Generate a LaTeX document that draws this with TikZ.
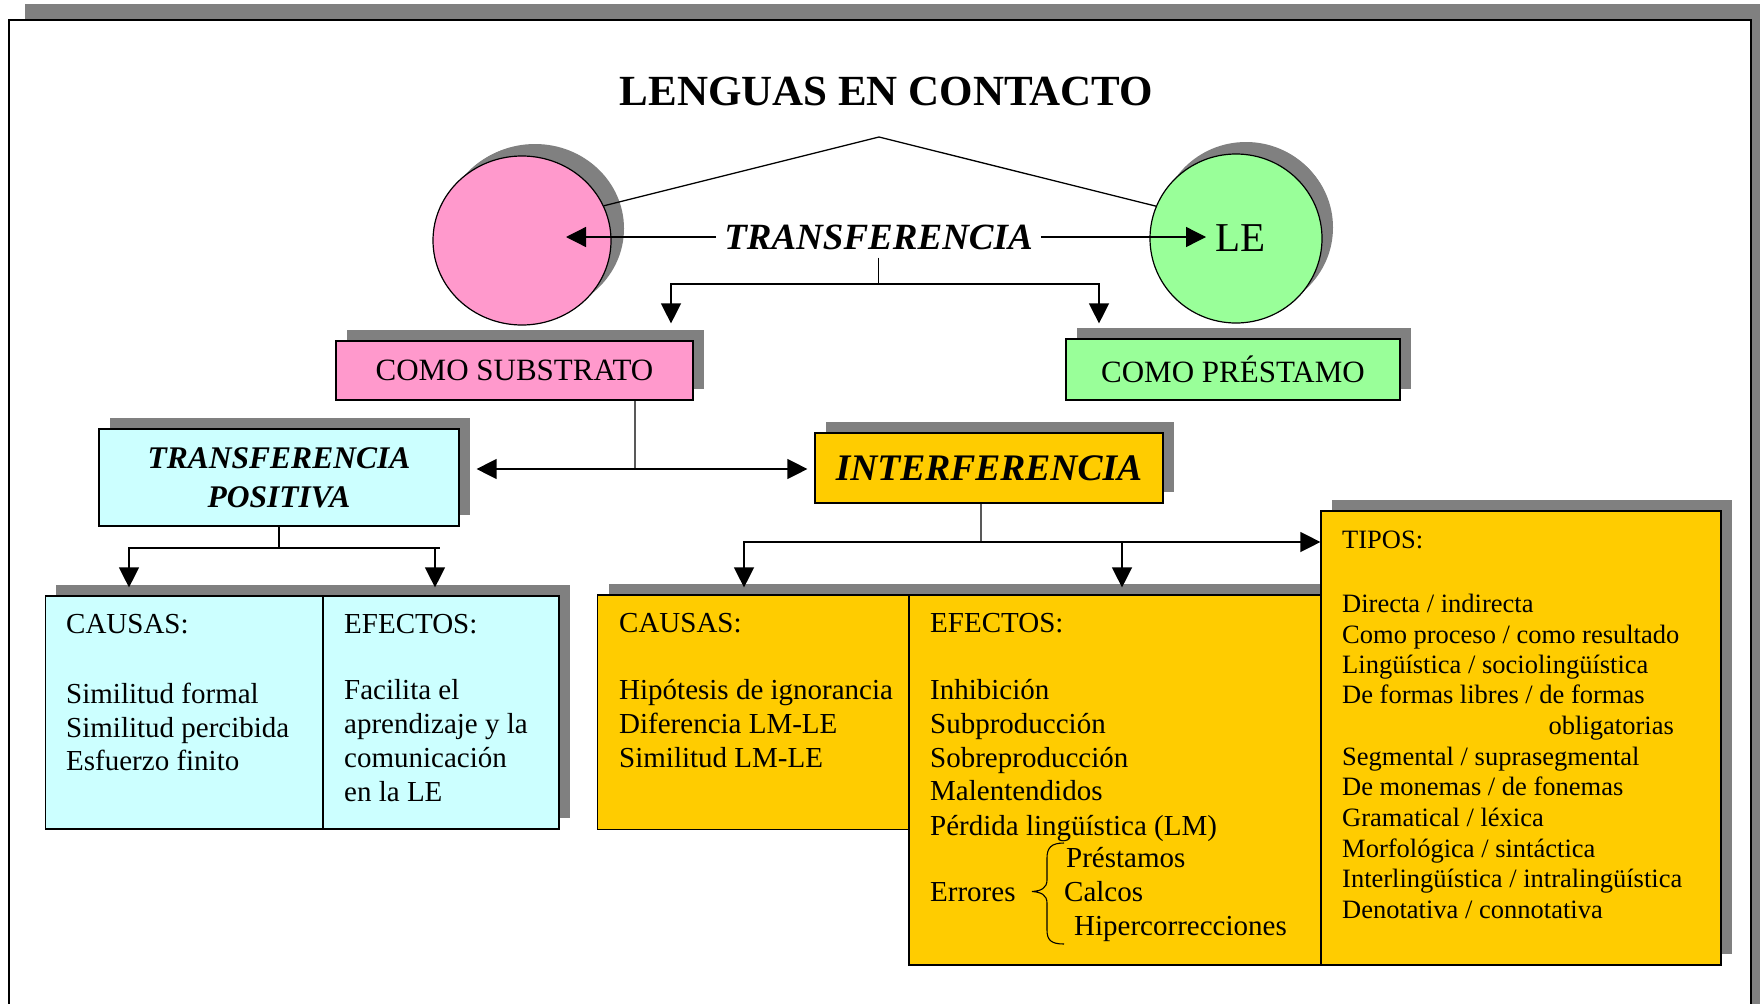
\documentclass[tikz,border=0pt]{standalone}
\usepackage{fontspec}
\setmainfont{Liberation Serif}
\usetikzlibrary{shadows,arrows.meta,shapes.geometric}
\definecolor{pinkf}{HTML}{FF99CC}
\definecolor{greenf}{HTML}{99FF99}
\definecolor{cyanf}{HTML}{CCFFFF}
\definecolor{goldf}{HTML}{FFCC00}
\definecolor{shgray}{HTML}{808080}
\newcommand\fTitle{\fontsize{43bp}{50bp}\selectfont\bfseries}
\newcommand\fTr{\fontsize{37bp}{44bp}\selectfont\bfseries\itshape}
\newcommand\fLE{\fontsize{41bp}{48bp}\selectfont}
\newcommand\fBox{\fontsize{31bp}{36bp}\selectfont}
\newcommand\fTP{\fontsize{31.5bp}{39bp}\selectfont\bfseries\itshape}
\newcommand\fInt{\fontsize{37.5bp}{44bp}\selectfont\bfseries\itshape}
\newcommand\fBody{\fontsize{29bp}{34bp}\selectfont}
\newcommand\fTipos{\fontsize{26.5bp}{31bp}\selectfont}
\begin{document}
\begin{tikzpicture}[x=1bp,y=-1bp,
  box/.style={draw=black, line width=1.2bp, inner sep=0pt,
    general shadow={fill=shgray, shadow xshift=11bp, shadow yshift=11bp}},
  conn/.style={line width=1.3bp},
  arr/.style={conn, -{Triangle[length=20bp,width=20bp]}},
  tx/.style={anchor=base west, inner sep=0pt, font=\fBody},
  tt/.style={anchor=base west, inner sep=0pt, font=\fTipos}]
\useasboundingbox (0,0) rectangle (1760,1003);
\begin{scope}
\clip (0,0) rectangle (1760,1003);
\fill[shgray] (25,4) rectangle (1775,1020);
\draw[fill=white, line width=1.3bp] (9,20) rectangle (1751,1020);
\end{scope}

% title
\node[anchor=base, inner sep=0pt, font=\fTitle] (title) at (886.5,105) {LENGUAS EN CONTACTO};

% circles
\node[box, ellipse, fill=pinkf, minimum width=178bp, minimum height=169bp,
  general shadow={fill=shgray, shadow xshift=13bp, shadow yshift=12bp}] (lm) at (522,240.5) {};
\node[box, ellipse, fill=greenf, minimum width=172bp, minimum height=169bp,
  general shadow={fill=shgray, shadow xshift=10bp, shadow yshift=12bp}] (le) at (1236,238.5) {};
\node[anchor=base west, inner sep=0pt, font=\fLE] (letxt) at (1215,251) {LE};

\node[inner sep=8bp, font=\fTr] (tr) at (878.5,237) {TRANSFERENCIA};

% boxes
\node[box, fill=pinkf, minimum width=357bp, minimum height=59bp, font=\fBox] (sub) at (514.5,370.5) {COMO SUBSTRATO};
\node[box, fill=greenf, minimum width=334bp, minimum height=61bp, font=\fBox] (pre) at (1233,369.5) {COMO PRÉSTAMO};
\node[box, fill=cyanf, minimum width=360bp, minimum height=97bp, align=center, font=\fTP] (tp) at (279,477.5) {TRANSFERENCIA\\POSITIVA};
\node[box, fill=goldf, minimum width=348bp, minimum height=70bp, font=\fInt] (int) at (989,468) {INTERFERENCIA};

\node[box, fill=cyanf, minimum width=277.5bp, minimum height=233bp] (cc) at (184.25,712.5) {};
\node[box, fill=cyanf, minimum width=236bp, minimum height=233bp] (ce) at (441,712.5) {};
\node[box, fill=goldf, minimum width=311.5bp, minimum height=234.6bp] (gc) at (753.25,712.3) {};
\node[box, fill=goldf, minimum width=412bp, minimum height=370bp] (ge) at (1115,780) {};
\node[box, fill=goldf, minimum width=400bp, minimum height=454bp] (tipos) at (1521,738) {};

% connectors
\coordinate (apex) at (879,137);
\draw[conn] (apex) -- (lm.23);
\draw[conn] (apex) -- (le.158);
\coordinate (lmtip) at (566,237);
\draw[arr] (tr.west) -- (tr.west -| lmtip);
\draw[arr, shorten >=9bp] (tr.east) -- (tr.east -| letxt.west);

\coordinate (j1) at (878.5,284);
\draw[conn] (tr.south) -- (j1);
\draw[arr, shorten >=17bp] (j1) -| ([xshift=156.5bp]sub.north);
\draw[arr, shorten >=15bp] (j1) -| ([xshift=-134bp]pre.north);

\coordinate (j2) at (635,469);
\draw[conn] ([xshift=120.5bp]sub.south) -- (j2);
\draw[arr, shorten >=17bp] (j2) -- (j2 -| tp.east);
\draw[arr, shorten >=7bp] (j2) -- (j2 -| int.west);

\coordinate (j3) at (279,548);
\draw[conn] (tp.south) -- (j3) -- ++(161,0);
\draw[arr, shorten >=8bp] (j3) -| ([xshift=-55.25bp]cc.north);
\draw[arr, shorten >=8bp] (j3) -| ([xshift=-6bp]ce.north);

\coordinate (j4) at (981,542);
\draw[conn] ([xshift=-8bp]int.south) -- (j4);
\draw[arr, shorten >=7bp] (j4) -| ([xshift=-9.25bp]gc.north);
\draw[arr, shorten >=7bp] (j4) -| ([xshift=7bp]ge.north);
\draw[arr] (j4) -- (j4 -| tipos.west);

% cyan texts
\node[tx] (cc0) at (66,633) {CAUSAS:};
\node[tx] (cc1) at (66,703) {Similitud formal};
\node[tx] (cc2) at (66,737) {Similitud percibida};
\node[tx] (cc3) at (66,770) {Esfuerzo finito};
\node[tx] (ce0) at (344,633) {EFECTOS:};
\node[tx] (ce1) at (344,699) {Facilita el};
\node[tx] (ce2) at (344,733) {aprendizaje y la};
\node[tx] (ce3) at (344,767) {comunicación};
\node[tx] (ce4) at (344,801) {en la LE};

% gold causas
\node[tx] (gc0) at (619,632) {CAUSAS:};
\node[tx] (gc1) at (619,699) {Hipótesis de ignorancia};
\node[tx] (gc2) at (619,733) {Diferencia LM-LE};
\node[tx] (gc3) at (619,767) {Similitud LM-LE};

% gold efectos
\node[tx] (ge0) at (930,632) {EFECTOS:};
\node[tx] (ge1) at (930,699) {Inhibición};
\node[tx] (ge2) at (930,733) {Subproducción};
\node[tx] (ge3) at (930,767) {Sobreproducción};
\node[tx] (ge4) at (930,800) {Malentendidos};
\node[tx] (ge5) at (930,835) {Pérdida lingüística (LM)};
\node[tx] (ge6) at (930,901) {Errores};
\node[tx] (ge7) at (1066,867) {Préstamos};
\node[tx] (ge8) at (1064,901) {Calcos};
\node[tx] (ge9) at (1074,935) {Hipercorrecciones};
\draw[line width=1.1bp] (1064,843) .. controls (1051,843) and (1047,848) .. (1047,858)
  -- (1047,880) .. controls (1047,888) and (1041,891) .. (1032,891.5)
  .. controls (1041,892) and (1047,895) .. (1047,903)
  -- (1047,930) .. controls (1047,940) and (1051,944) .. (1064,944);

% tipos
\node[tt] (t0) at (1342,548) {TIPOS:};
\node[tt] (t1) at (1342,612) {Directa / indirecta};
\node[tt] (t2) at (1342,643) {Como proceso / como resultado};
\node[tt] (t3) at (1342,673) {Lingüística / sociolingüística};
\node[tt] (t4) at (1342,703) {De formas libres / de formas};
\node[tt, anchor=base east] (t5) at (1674,734) {obligatorias};
\node[tt] (t6) at (1342,765) {Segmental / suprasegmental};
\node[tt] (t7) at (1342,795) {De monemas / de fonemas};
\node[tt] (t8) at (1342,826) {Gramatical / léxica};
\node[tt] (t9) at (1342,857) {Morfológica / sintáctica};
\node[tt] (t10) at (1342,887) {Interlingüística / intralingüística};
\node[tt] (t11) at (1342,918) {Denotativa / connotativa};
\end{tikzpicture}
\end{document}
